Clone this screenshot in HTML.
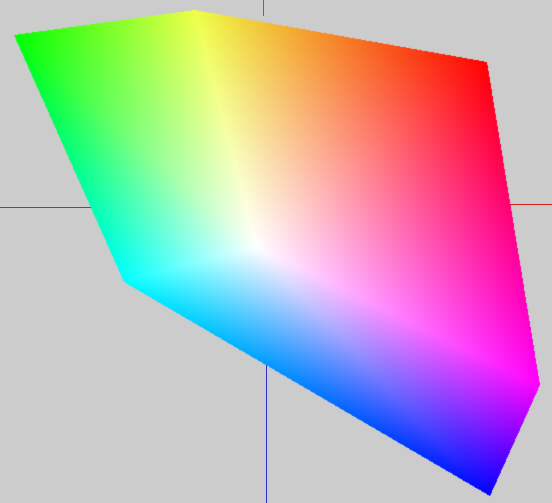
<!DOCTYPE html>
<html><head><meta charset="utf-8"><style>
html,body{margin:0;padding:0;background:#cccccc;}
#wrap{position:relative;width:552px;height:503px;overflow:hidden;background:#cccccc;}
.ax{position:absolute;}
canvas{position:absolute;left:0;top:0;}
</style></head><body>
<div id="wrap">
<div class="ax" style="left:0;top:207px;width:95px;height:1px;background:#d02020"></div>
<div class="ax" style="left:505px;top:204px;width:47px;height:1px;background:#d02020"></div>
<div class="ax" style="left:263px;top:0;width:1px;height:16px;background:#20a020"></div>
<div class="ax" style="left:266px;top:360px;width:1px;height:143px;background:#3030d0"></div>
<canvas id="c" width="552" height="503"></canvas>
</div>
<script>
// vertex screen positions and colours of the visible RGB cube corners
const vertexNames = ["white","yellow","green","cyan","red","magenta","blue"];
const vertexX = [257,195,14,124,487,540,490];
const vertexY = [247,10,35,282,62,385,496];
const vertexR = [255,238,0,0,255,255,0];
const vertexG = [255,255,255,255,0,0,0];
const vertexB = [255,70,0,255,0,255,255];
const tris = [[0,1,2],[0,2,3],[0,1,4],[0,4,5],[0,5,6],[0,6,3]];
const cv=document.getElementById('c'),ctx=cv.getContext('2d');
const img=ctx.getImageData(0,0,552,503),d=img.data;
for(const t of tris){
  const [a,b,c]=t;
  const x1=vertexX[a],y1=vertexY[a],x2=vertexX[b],y2=vertexY[b],x3=vertexX[c],y3=vertexY[c];
  const den=(y2-y3)*(x1-x3)+(x3-x2)*(y1-y3);
  const minx=Math.max(0,Math.floor(Math.min(x1,x2,x3))),maxx=Math.min(551,Math.ceil(Math.max(x1,x2,x3)));
  const miny=Math.max(0,Math.floor(Math.min(y1,y2,y3))),maxy=Math.min(502,Math.ceil(Math.max(y1,y2,y3)));
  for(let y=miny;y<=maxy;y++)for(let x=minx;x<=maxx;x++){
    const px=x+0.5,py=y+0.5;
    const l1=((y2-y3)*(px-x3)+(x3-x2)*(py-y3))/den;
    const l2=((y3-y1)*(px-x3)+(x1-x3)*(py-y3))/den;
    const l3=1-l1-l2;
    if(l1<-1e-6||l2<-1e-6||l3<-1e-6)continue;
    const i=(y*552+x)*4;
    d[i]=l1*vertexR[a]+l2*vertexR[b]+l3*vertexR[c];
    d[i+1]=l1*vertexG[a]+l2*vertexG[b]+l3*vertexG[c];
    d[i+2]=l1*vertexB[a]+l2*vertexB[b]+l3*vertexB[c];
    d[i+3]=255;
  }
}
ctx.putImageData(img,0,0);
</script>
</body></html>
